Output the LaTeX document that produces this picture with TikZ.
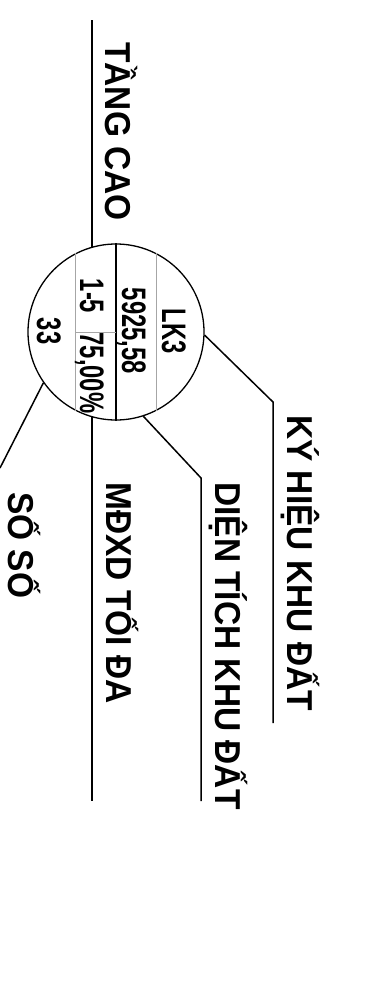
\documentclass[tikz,border=0pt]{standalone}
\usepackage{fontspec}
\newfontfamily\lblfont{Liberation Sans}[FakeStretch=0.93]
\newfontfamily\cellfont{Liberation Sans}[FakeStretch=0.7]

\begin{document}
\begin{tikzpicture}[x=1pt,y=-1pt,
  lead/.style={line width=1.5pt},
  cellrule/.style={line width=1pt,gray!70},
  lbl/.style={rotate=-90,anchor=base west,inner sep=0pt,
    font=\lblfont\bfseries\fontsize{36}{36}\selectfont},
  cell/.style={rotate=-90,anchor=base,inner sep=0pt,
    font=\cellfont\bfseries\fontsize{34}{34}\selectfont}]
\useasboundingbox (0,0) rectangle (382,988);
\node[draw,circle,line width=1.3pt,minimum size=176pt,inner sep=0pt] (lot) at (116,332) {};
% cell rules inside the lot bubble
\draw[line width=1.2pt] (lot.north) -- (lot.south);
\draw[cellrule] (lot.63) -- (lot.-63);
\draw[cellrule] (lot.117) -- (lot.-117);
\coordinate (mid) at (lot.117 |- lot.center);
\draw[cellrule] (mid) -- (lot.center);
\node[cell] (code) at (162,331) {LK3};
\node[cell] (area) at (122,331) {5925,58};
\node[cell] (floors) at (80,296) {1-5};
\node[cell] (density) at (80,373) {75,00\%};
\node[cell] (count) at (37,331) {33};
% labels
\node[lbl] (tangcao) at (105,42) {TẦNG CAO};
\node[lbl] (kyhieu) at (287,415) {KÝ HIỆU KHU ĐẤT};
\node[lbl] (dientich) at (215,482) {DIỆN TÍCH KHU ĐẤT};
\node[lbl] (matdo) at (106,482) {MĐXD TỐI ĐA};
\node[lbl] (soso) at (9,492) {SỐ SỐ};
% leaders
\coordinate (tangtop) at (92,20);
\coordinate (matdoend) at (92,801);
\coordinate (kybend) at (273,402);
\coordinate (kyend) at (273,723);
\coordinate (dtbend) at (201,478);
\coordinate (dtend) at (201,801);
\coordinate (soend) at (0,468);
\draw[lead] (tangtop) -- (tangtop |- lot.106);
\draw[lead] (matdoend |- lot.-106) -- (matdoend);
\draw[lead] (lot.-2) -- (kybend) -- (kyend);
\draw[lead] (lot.-72) -- (dtbend) -- (dtend);
\draw[lead] (lot.-145) -- (soend);
\end{tikzpicture}
\end{document}
